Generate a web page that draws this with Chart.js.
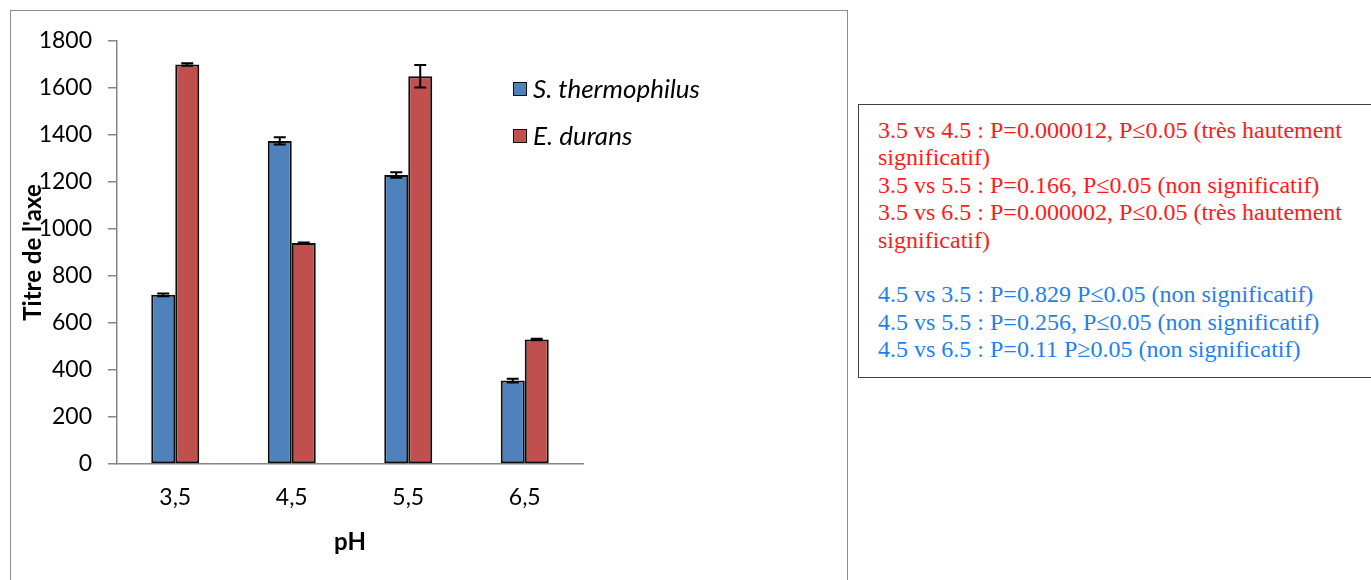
<!DOCTYPE html>
<html>
<head>
<meta charset="utf-8">
<script src="https://cdn.jsdelivr.net/npm/chart.js@4"></script>
<style>
  html, body { margin: 0; padding: 0; background: #fff; width: 1371px; height: 580px; overflow: hidden; }
  #chartWrap { position: absolute; left: 0; top: 0; width: 848px; height: 580px; }
  #frame { position: absolute; left: 10px; top: 10px; width: 838px; height: 600px; border: 1.5px solid #8c8c8c; box-sizing: border-box; pointer-events: none; }
  #legend { position: absolute; left: 513px; top: 72px; font-family: Lato, "Open Sans", sans-serif; font-style: italic; font-size: 26px; color: #000; }
  .item { position: absolute; left: 0; white-space: nowrap; height: 32px; line-height: 32px; }
  .swatch { display: inline-block; width: 12px; height: 12px; border: 1.5px solid #111; vertical-align: middle; margin-right: 6px; position: relative; top: -2px; }
  #stats { position: absolute; left: 858px; top: 104px; width: 540px; height: 274px; border: 1.5px solid #404040; box-sizing: border-box; padding: 12px 0 0 19px; font-family: "Liberation Serif", "Times New Roman", serif; font-size: 24px; line-height: 27.4px; white-space: pre; }
  .r { color: #ff1a1a; }
  .b { color: #1f7fef; }
</style>
</head>
<body>
<div id="chartWrap"><canvas id="c" width="848" height="580"></canvas></div>
<div id="frame"></div>
<div id="legend"></div>
<div id="stats"></div>
<script>
// pH categories and mean titres with their error margins
const phLabels = ['3,5', '4,5', '5,5', '6,5'];
const seriesNames = ['S. thermophilus', 'E. durans'];
const thermophilus = [720, 1375, 1230, 355];
const thermophilusErr = [6, 15, 12, 8];
const durans = [1700, 940, 1650, 530];
const duransErr = [5, 3, 48, 3];
const yTicks = { min: 0, max: 1800, step: 200 };
const colors = ['#4f81bd', '#c0504d'];

// statistical comparisons listed in the side box
const redLines = [
  '3.5 vs 4.5 : P=0.000012, P\u22640.05 (très hautement',
  'significatif)',
  '3.5 vs 5.5 : P=0.166, P\u22640.05 (non significatif)',
  '3.5 vs 6.5 : P=0.000002, P\u22640.05 (très hautement',
  'significatif)'
];
const blueLines = [
  '4.5 vs 3.5 : P=0.829 P\u22640.05 (non significatif)',
  '4.5 vs 5.5 : P=0.256, P\u22640.05 (non significatif)',
  '4.5 vs 6.5 : P=0.11 P\u22650.05 (non significatif)'
];

const stats = document.getElementById('stats');
function addLine(text, cls) {
  const d = document.createElement('div');
  d.className = cls;
  d.textContent = text;
  stats.appendChild(d);
}
redLines.forEach(t => addLine(t, 'r'));
addLine(' ', 'r');
blueLines.forEach(t => addLine(t, 'b'));

const legend = document.getElementById('legend');
seriesNames.forEach((name, i) => {
  const it = document.createElement('div');
  it.className = 'item';
  it.style.top = (i * 47) + 'px';
  const sw = document.createElement('span');
  sw.className = 'swatch';
  sw.style.background = colors[i];
  it.appendChild(sw);
  it.appendChild(document.createTextNode(name));
  legend.appendChild(it);
});

// error bars drawn on top of every bar
const errorBars = {
  id: 'errorBars',
  afterDatasetsDraw(chart) {
    const ctx = chart.ctx;
    const y = chart.scales.y;
    chart.data.datasets.forEach((ds, di) => {
      const meta = chart.getDatasetMeta(di);
      meta.data.forEach((bar, i) => {
        const v = ds.data[i], e = ds.errors[i];
        const top = y.getPixelForValue(v + e);
        const bot = y.getPixelForValue(v - e);
        const x = bar.x;
        ctx.save();
        ctx.strokeStyle = '#000';
        ctx.lineWidth = 2;
        ctx.beginPath();
        ctx.moveTo(x, top); ctx.lineTo(x, bot);
        ctx.moveTo(x - 6, top); ctx.lineTo(x + 6, top);
        ctx.moveTo(x - 6, bot); ctx.lineTo(x + 6, bot);
        ctx.stroke();
        ctx.restore();
      });
    });
  }
};

const fam = 'Lato, "Open Sans", sans-serif';
const tickFont = { family: fam, size: 23 };
const titleFont = { family: fam, size: 24, weight: 'bold' };

new Chart(document.getElementById('c'), {
  type: 'bar',
  data: {
    labels: phLabels,
    datasets: [
      { label: seriesNames[0], data: thermophilus, errors: thermophilusErr, backgroundColor: colors[0], borderColor: '#0d0d0d', borderWidth: 2, borderSkipped: false },
      { label: seriesNames[1], data: durans, errors: duransErr, backgroundColor: colors[1], borderColor: '#0d0d0d', borderWidth: 2, borderSkipped: false }
    ]
  },
  options: {
    responsive: false,
    maintainAspectRatio: false,
    animation: false,
    layout: { padding: { left: 0, top: 41, right: 265, bottom: 0 } },
    datasets: { bar: { categoryPercentage: 0.412, barPercentage: 1 } },
    plugins: { legend: { display: false }, tooltip: { enabled: false } },
    scales: {
      x: {
        grid: { display: false, drawTicks: false },
        border: { display: true, color: '#868686', width: 1.5 },
        ticks: { font: tickFont, color: '#000', padding: 20 },
        title: { display: true, text: 'pH', font: titleFont, color: '#000', padding: { top: 0, bottom: 23 } },
        afterFit(scale) { scale.height = 116; }
      },
      y: {
        min: yTicks.min,
        max: yTicks.max,
        grid: { display: true, drawOnChartArea: false, drawTicks: true, tickLength: 9, color: '#868686', lineWidth: 1.5 },
        border: { display: true, color: '#868686', width: 1.5 },
        ticks: { stepSize: yTicks.step, font: tickFont, color: '#000', padding: 16, callback: v => String(v) },
        title: { display: true, text: "Titre de l'axe", font: titleFont, color: '#000', padding: { top: 19, bottom: 0 } },
        afterFit(scale) { scale.width = 117; }
      }
    }
  },
  plugins: [errorBars]
});
</script>
</body>
</html>
